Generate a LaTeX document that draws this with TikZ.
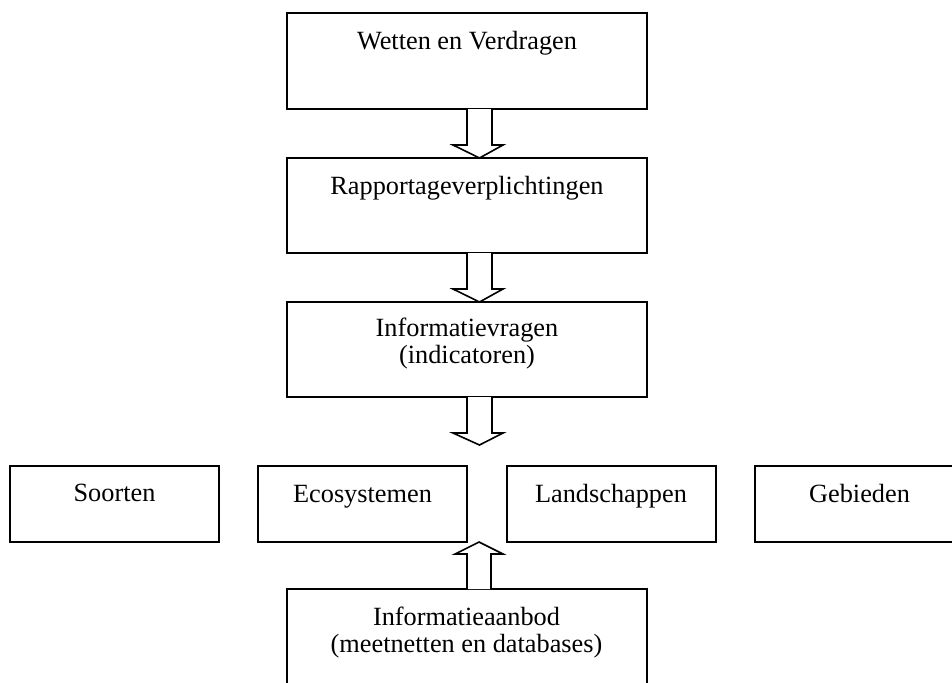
\documentclass[tikz,border=0pt]{standalone}
\usepackage{fontspec}
\setmainfont{Liberation Serif}
\usetikzlibrary{calc}
\begin{document}
\begin{tikzpicture}[x=0.5pt,y=-0.5pt,
  box/.style={draw,line width=1pt,inner sep=0pt,outer sep=0pt,minimum width=180pt,minimum height=47.5pt},
  smallbox/.style={draw,line width=1pt,inner sep=0pt,outer sep=0pt,minimum width=104.5pt,minimum height=38pt},
  txt/.style={inner sep=0pt,outer sep=0pt,align=center,font=\fontsize{13.15}{13.5}\selectfont},
  blk/.style={draw,line width=0.8pt,fill=white,line join=miter}]
\useasboundingbox (0,0) rectangle (952,682);
% main column
\node[box,minimum height=48pt] (b1) at (467,61) {};
\node[box] (b2) at (467,205.5) {};
\node[box] (b3) at (467,349.5) {};
\node[box] (b5) at (466.5,636.5) {};
% row
\node[smallbox] (s1) at (114.5,503.5) {};
\node[smallbox] (s2) at (362.5,504) {};
\node[smallbox] (s3) at (611,504) {};
\node[smallbox] (s4) at (859.5,504) {};
% texts
\node[txt,anchor=base] (t1) at ($(b1.north)+(0,36)$) {Wetten en Verdragen};
\node[txt,anchor=base] (t2) at ($(b2.north)+(0,36)$) {Rapportageverplichtingen};
\node[txt,anchor=north] (t3) at ($(b3.north)+(0,16)$) {Informatievragen\\(indicatoren)};
\node[txt,anchor=north] (t5) at ($(b5.north)+(0,18)$) {Informatieaanbod\\(meetnetten en databases)};
\node[txt,anchor=base] (ts1) at ($(s1.north)+(0,36)$) {Soorten};
\node[txt,anchor=base] (ts2) at ($(s2.north)+(0,36)$) {Ecosystemen};
\node[txt,anchor=base] (ts3) at ($(s3.north)+(0,36)$) {Landschappen};
\node[txt,anchor=base] (ts4) at ($(s4.north)+(0,36)$) {Gebieden};
% block arrows
\draw[blk] (b1.south) -- ($(b1.south)+(0,36)$) -- ($(b1.south)+(-14,36)$)
  -- ($(b2.north)+(12.5,0)$) -- ($(b1.south)+(36,36)$) -- ($(b1.south)+(25,36)$)
  -- ($(b1.south)+(25,0)$);
\draw[blk] (b2.south) -- ($(b2.south)+(0,36)$) -- ($(b2.south)+(-14,36)$)
  -- ($(b3.north)+(12.5,0)$) -- ($(b2.south)+(36,36)$) -- ($(b2.south)+(25,36)$)
  -- ($(b2.south)+(25,0)$);
\coordinate (tip3) at ($(b3.south)+(12.5,48)$);
\draw[blk] (b3.south) -- ($(b3.south)+(0,36)$) -- ($(b3.south)+(-14,36)$)
  -- (tip3) -- ($(b3.south)+(36,36)$) -- ($(b3.south)+(25,36)$)
  -- ($(b3.south)+(25,0)$);
\coordinate (tip5) at ($(b5.north)+(12.5,-47)$);
\draw[blk] ($(b5.north)+(0.5,0)$) -- ($(b5.north)+(0.5,-35)$) -- ($(b5.north)+(-11.5,-35)$)
  -- (tip5) -- ($(b5.north)+(36.5,-35)$) -- ($(b5.north)+(24.5,-35)$)
  -- ($(b5.north)+(24.5,0)$);
\end{tikzpicture}
\end{document}
